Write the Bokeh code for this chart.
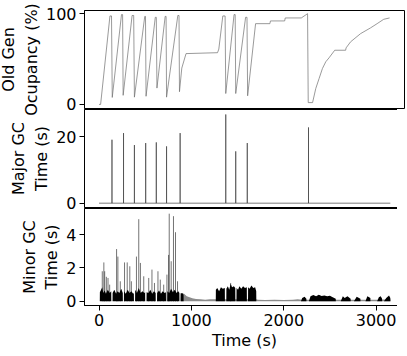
from bokeh.plotting import figure
from bokeh.layouts import column
from bokeh.models import Range1d, FixedTicker
from bokeh.embed import file_html
from bokeh.resources import INLINE

# ---------------- data ----------------
# Old generation occupancy (%)
old_t = [0, 17, 118, 135, 143, 243, 255, 261, 358, 375, 383, 495, 503, 509,
         609, 620, 627, 716, 726, 731, 853, 866, 871, 896, 942, 1283, 1297,
         1340, 1365, 1372, 1462, 1474, 1480, 1587, 1602, 1609, 1695, 1850,
         1856, 2010, 2016, 2190, 2258, 2265, 2312, 2347, 2383, 2419, 2455,
         2490, 2552, 2670, 2675, 2724, 2832, 2939, 3011, 3082, 3146]
old_v = [0, 0, 97.5, 97.5, 7.7, 99, 99, 10, 98, 98, 8, 97, 97, 9,
         96, 96, 18, 97, 97, 8, 98, 98, 14, 40, 56, 57, 61,
         97.5, 97.5, 12, 99, 99, 12, 96, 96, 9.5, 89, 89,
         92, 92, 95.3, 95.3, 100, 2, 2, 17.6, 28.6, 39.6, 47,
         51.3, 59.7, 59.7, 62.3, 69, 78, 84.3, 89, 93.8, 95.3]

# Major GC pauses (s)
major_t = [0, 140, 265, 383, 505, 620, 731, 878, 1372, 1480, 1605, 2268, 3154]
major_s = [0, 19.1, 21.1, 17.5, 18.1, 18.3, 17.1, 21.1, 26.7, 15.6, 18.1, 22.8, 0]

# Minor GC pauses (s): dense bursts (envelope), sparse background, tall spikes
minor_dense_t = [8, 9, 35, 45, 60, 75, 95, 115, 132, 133,
                 146, 147, 165, 185, 200, 220, 240, 257, 258,
                 269, 270, 290, 310, 330, 350, 370, 377, 378,
                 390, 391, 410, 430, 450, 470, 490, 499, 500,
                 514, 515, 535, 555, 575, 595, 613, 614,
                 628, 629, 650, 670, 690, 710, 724, 725,
                 738, 739, 760, 780, 800, 820, 840, 858, 870, 871,
                 884, 885, 900, 915, 916,
                 1264, 1265, 1280, 1300, 1320, 1340, 1362, 1363,
                 1378, 1379, 1395, 1410, 1425, 1440, 1460, 1475, 1476,
                 1488, 1489, 1505, 1520, 1540, 1560, 1580, 1600, 1601,
                 1613, 1614, 1630, 1650, 1670, 1690, 1702, 1703,
                 2186, 2200, 2225, 2245, 2246,
                 2272, 2290, 2320, 2350, 2380, 2410, 2440, 2470, 2500, 2530, 2563, 2564,
                 2617, 2640, 2660, 2690, 2724, 2725,
                 2760, 2790, 2830, 2831,
                 2885, 2905, 2938, 2939,
                 3011, 3030, 3050, 3065, 3066,
                 3085, 3110, 3140, 3154, 3155]
minor_dense_v = [0, 0.55, 0.85, 0.5, 0.65, 0.45, 0.7, 0.5, 0.6, 0,
                 0, 0.5, 0.7, 0.45, 0.6, 0.5, 0.75, 0.5, 0,
                 0, 0.6, 0.45, 0.7, 0.5, 0.6, 0.45, 0.5, 0,
                 0, 0.7, 0.5, 0.8, 0.5, 0.6, 0.5, 0.55, 0,
                 0, 0.55, 0.5, 0.7, 0.45, 0.6, 0.5, 0,
                 0, 0.5, 0.65, 0.45, 0.6, 0.5, 0.55, 0,
                 0, 0.6, 0.5, 0.75, 0.55, 0.7, 0.5, 0.6, 0.5, 0,
                 0, 0.45, 0.5, 0.4, 0,
                 0, 0.7, 0.8, 0.6, 0.85, 0.75, 0.8, 0,
                 0, 0.75, 0.9, 0.7, 1.05, 0.85, 0.9, 0.8, 0,
                 0, 0.8, 0.7, 0.9, 0.75, 0.9, 0.8, 0.85, 0,
                 0, 0.85, 0.75, 0.95, 0.8, 0.85, 0.6, 0,
                 0, 0.2, 0.28, 0.15, 0,
                 0, 0.3, 0.38, 0.3, 0.4, 0.32, 0.35, 0.3, 0.34, 0.25, 0.15, 0,
                 0, 0.3, 0.2, 0.3, 0.15, 0,
                 0, 0.28, 0.15, 0,
                 0, 0.3, 0.2, 0,
                 0, 0.25, 0.3, 0.15, 0,
                 0, 0.2, 0.35, 0.2, 0]
minor_sparse_t = [880, 882, 920, 950, 980, 1010, 1050, 1100, 1150, 1200, 1262,
                  1700, 1720, 1800, 1900, 2000, 2100, 2150, 2200, 2300, 2600,
                  2700, 3000, 3154, 3155]
minor_sparse_v = [0, 0.5, 0.45, 0.3, 0.25, 0.18, 0.14, 0.12, 0.1, 0.13, 0.12,
                  0.12, 0.1, 0.08, 0.1, 0.08, 0.1, 0.12, 0.1, 0.1, 0.1,
                  0.1, 0.1, 0.12, 0]
minor_spike_t = [35, 52, 61, 79, 97, 115, 190, 204, 230, 276, 305, 333, 350,
                 405, 430, 448, 484, 538, 573, 600, 638, 663, 700, 735, 753,
                 760, 781, 806, 828, 850, 1425]
minor_spike_v = [1.8, 2.33, 1.8, 1.47, 1.4, 1.0, 3.13, 2.68, 1.2, 2.33, 2.33, 2.1, 1.2,
                 2.68, 4.92, 2.3, 1.5, 1.4, 1.9, 1.1, 1.8, 1.3, 1.0, 1.6, 2.78,
                 5.25, 2.4, 5.1, 4.14, 1.2, 1.1]

x_ticks = [0, 1000, 2000, 3000]
old_ticks = [0, 100]
major_ticks = [0, 20]
minor_ticks = [0, 2, 4]

# ---------------- figures ----------------
FONT = "DejaVu Sans"
FS = "16px"
xr = Range1d(-157.5, 3307.5)
OVER = 12  # overlap between stacked canvases (lets labels overflow)


def make_fig(fh, yr, yticks, ylabel, show_x, top_b, bot_b):
    p = figure(frame_width=320, frame_height=fh, x_range=xr, y_range=yr,
               output_backend="svg", toolbar_location=None,
               x_axis_location="below" if show_x else None,
               min_border_left=80, min_border_right=1,
               min_border_top=top_b, min_border_bottom=bot_b)
    p.grid.visible = False
    p.outline_line_color = "black"
    p.outline_line_width = 1
    p.outline_line_alpha = 1
    p.background_fill_color = "white"
    p.border_fill_alpha = 0
    axes = list(p.yaxis) + (list(p.xaxis) if show_x else [])
    for ax in axes:
        ax.minor_tick_line_color = None
        ax.major_tick_in = 0
        ax.major_tick_out = 5
        ax.axis_line_color = "black"
        ax.major_tick_line_color = "black"
        ax.major_label_text_font = FONT
        ax.major_label_text_font_size = FS
        ax.major_label_text_color = "black"
        ax.axis_label_text_font = FONT
        ax.axis_label_text_font_size = FS
        ax.axis_label_text_font_style = "normal"
        ax.axis_label_text_color = "black"
        ax.major_label_standoff = 3
        ax.axis_label_standoff = 2
    p.yaxis.ticker = FixedTicker(ticks=yticks)
    p.yaxis.axis_label = ylabel
    if show_x:
        p.xaxis.ticker = FixedTicker(ticks=x_ticks)
        p.xaxis.axis_label = "Time (s)"
    return p


p1 = make_fig(98, Range1d(-4.5, 103.5), old_ticks, "Old Gen\nOcupancy (%)", False, 10, OVER)
p1.line(old_t, old_v, line_color="#6e6e6e", line_width=0.7)

p2 = make_fig(98, Range1d(-1.3, 28.2), major_ticks, "Major GC\nTime (s)", False, 1, OVER)
p2.margin = (-OVER, 0, 0, 0)
mx, my = [], []
for t, s in zip(major_t, major_s):
    if s == 0:
        mx.append(t); my.append(0)
    else:
        mx += [t, t, t]; my += [0, s, 0]
p2.line(mx, my, line_color="#444444", line_width=0.7)

p3 = make_fig(97, Range1d(-0.25, 5.56), minor_ticks, "Minor GC\nTime (s)", True, 1, 2)
p3.margin = (-OVER, 0, 0, 0)
p3.varea(x=minor_sparse_t, y1=[0] * len(minor_sparse_t), y2=minor_sparse_v,
         fill_color="#8c8c8c")
p3.varea(x=minor_dense_t, y1=[0] * len(minor_dense_t), y2=minor_dense_v,
         fill_color="black")
p3.segment(x0=minor_spike_t, y0=[0] * len(minor_spike_t),
           x1=minor_spike_t, y1=minor_spike_v,
           line_color="black", line_alpha=0.55, line_width=1)

layout = column(p1, p2, p3, spacing=0)
layout.margin = (0, 0, 0, -4)

open("out.html", "w").write(file_html(layout, INLINE))
